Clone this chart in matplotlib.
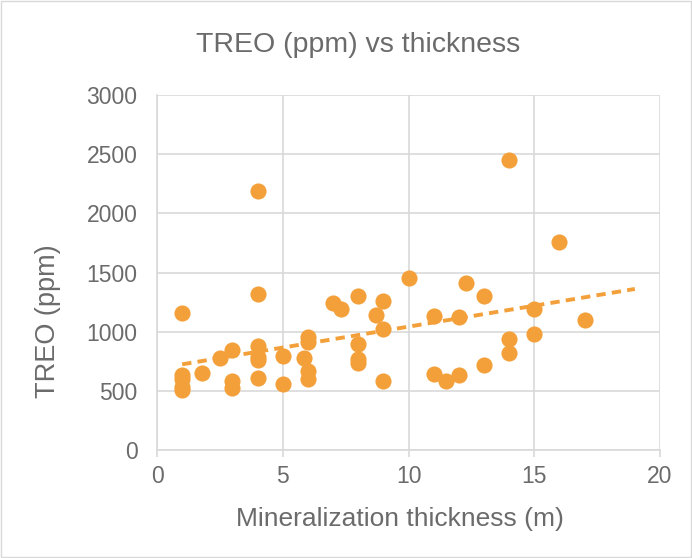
import numpy as np
import matplotlib
matplotlib.use("Agg")
import matplotlib.pyplot as plt

plt.rcParams['font.family'] = ['Liberation Sans', 'DejaVu Sans']

# Espesor de mineralizacion (m) y TREO (ppm)
thickness = [1, 1, 1, 1, 1, 1.8, 2.5, 3, 3, 3,
             4, 4, 4, 4, 4, 4, 5, 5, 5.85, 6,
             6, 6, 6, 7, 7.3, 8, 8, 8, 8, 8.7,
             9, 9, 9, 10, 11, 11, 11.5, 12, 12, 12.3,
             13, 13, 14, 14, 14, 15, 15, 16, 17]
treo = [1160, 630, 600, 530, 505, 650, 780, 845, 585, 520,
        2190, 1315, 880, 790, 760, 612, 795, 555, 780, 955,
        915, 665, 600, 1240, 1190, 1300, 900, 770, 735, 1145,
        1260, 1020, 580, 1455, 1135, 640, 586, 1125, 630, 1412,
        1305, 718, 2450, 938, 822, 1195, 980, 1760, 1100]

color = "#F4A03A"
gray_text = "#6B6B6B"
grid_color = "#D9D9D9"

fig = plt.figure(figsize=(6.92, 5.58), dpi=100)
ax = fig.add_axes([157 / 692, 1 - 450 / 558, (660 - 157) / 692, (450 - 95) / 558])

ax.scatter(thickness, treo, s=135, color=color, zorder=3, linewidths=0)

# Linea de tendencia lineal (con prevision de 2 unidades hacia adelante)
coef = np.polyfit(thickness, treo, 1)
xs = np.array([min(thickness), max(thickness) + 2])
ax.plot(xs, np.polyval(coef, xs), linestyle=(0, (2.4, 1.6)), color=color, linewidth=2.8, zorder=2)

ax.set_xlim(0, 20)
ax.set_ylim(0, 3000)
ax.set_xticks(np.arange(0, 21, 5))
ax.set_yticks(np.arange(0, 3001, 500))
ax.grid(True, color=grid_color, linewidth=1.2, zorder=0)
ax.set_axisbelow(True)

for s in ["top", "right"]:
    ax.spines[s].set_visible(False)
ax.spines["left"].set_color(grid_color)
ax.spines["bottom"].set_color(grid_color)
ax.spines["left"].set_linewidth(1.2)
ax.spines["bottom"].set_linewidth(1.2)

ax.tick_params(axis="x", colors=grid_color, labelcolor=gray_text, labelsize=16.5, length=5, width=1.2, pad=6)
ax.tick_params(axis="y", length=0, labelcolor=gray_text, labelsize=16.5, pad=14)

ax.set_xlabel("Mineralization thickness (m)", color=gray_text, fontsize=19, va="center")
ax.set_ylabel("TREO (ppm)", color=gray_text, fontsize=19.5, va="center")
ax.xaxis.set_label_coords(0.483, (450 - 519) / 355)
ax.yaxis.set_label_coords((48 - 157) / 503, (450 - 321) / 355)
fig.text(358 / 692, 1 - 45 / 558, "TREO (ppm) vs thickness", color=gray_text,
         fontsize=20.5, ha="center", va="center")

# Borde del area del grafico
fig.patches.append(plt.Rectangle((0.002, 0.002), 0.996, 0.996, transform=fig.transFigure,
                                 fill=False, edgecolor=grid_color, linewidth=1))

fig.savefig("out.png", dpi=100)
